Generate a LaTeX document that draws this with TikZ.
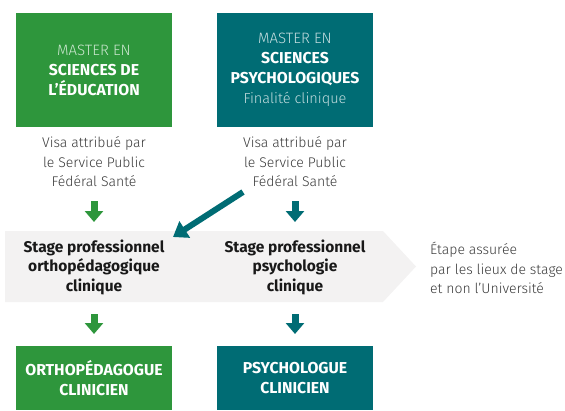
\documentclass[tikz,border=0pt]{standalone}
\usepackage{fontspec}
\setmainfont{Fira Sans}
\newfontfamily\lightfont{Fira Sans Light}
\usetikzlibrary{arrows.meta}
\definecolor{cgreen}{HTML}{2E963C}
\definecolor{cteal}{HTML}{006C74}
\definecolor{cband}{HTML}{F3F2F2}
\definecolor{ctext}{HTML}{3A3A3A}
\definecolor{cgreenlight}{HTML}{CBE6CE}
\definecolor{teallight}{HTML}{C4DDDF}
\newcommand{\bigb}[1]{{\bfseries\fontsize{15.8}{20}\selectfont #1}}
\tikzset{
  box/.style={rectangle, inner sep=0pt, minimum width=156pt, text=white, align=center, font=\fontsize{14}{20}\selectfont},
  visa/.style={inner sep=0pt, align=center, text=ctext, font=\lightfont\fontsize{14}{19.5}\selectfont},
  stagetxt/.style={inner sep=0pt, align=center, text=black!90, font=\bfseries\fontsize{15.5}{19.5}\selectfont},
  blockarrow/.style={line width=7pt, -{Triangle[width=18pt,length=11pt]}},
  diagarrow/.style={line width=6pt, cteal, -{Triangle[width=19pt,length=14pt]}},
}
\begin{document}
\begin{tikzpicture}[x=1pt, y=-1pt]
\useasboundingbox (0,0) rectangle (565,410);
% top boxes
\node[box, fill=cgreen, minimum height=114pt] (m1) at (94,70) {{\lightfont\fontsize{15}{20}\selectfont\color{cgreenlight}MASTER EN}\\\bigb{SCIENCES DE}\\\bigb{L’ÉDUCATION}};
\node[box, fill=cteal, minimum height=114pt] (m2) at (295,70) {{\lightfont\fontsize{15}{20}\selectfont\color{teallight}MASTER EN}\\\bigb{SCIENCES}\\\bigb{PSYCHOLOGIQUES}\\{\lightfont\fontsize{14.5}{21}\selectfont\color{teallight}Finalité clinique}};
% visa text
\node[visa] (v1) at (94,162) {Visa attribué par\\le Service Public\\Fédéral Santé};
\node[visa] (v2) at (295,162) {Visa attribué par\\le Service Public\\Fédéral Santé};
% band
\fill[cband] (5,231) -- (383,231) -- (416,266.5) -- (383,302) -- (5,302) -- cycle;
\node[stagetxt] (s1) at (94,267) {Stage professionnel\\orthopédagogique\\clinique};
\node[stagetxt] (s2) at (295,267) {Stage professionnel\\psychologie\\clinique};
\node[visa, align=left, anchor=west] (e) at (430,268) {Étape assurée\\par les lieux de stage\\et non l’Université};
% bottom boxes
\node[box, fill=cgreen, minimum height=64pt, font=\bfseries\fontsize{15.8}{19.5}\selectfont] (o1) at (94,378) {ORTHOPÉDAGOGUE\\CLINICIEN};
\node[box, fill=cteal, minimum height=64pt, font=\bfseries\fontsize{15.8}{19.5}\selectfont] (o2) at (295,378) {PSYCHOLOGUE\\CLINICIEN};
% arrows
\coordinate (a1s) at (94,201); \coordinate (a1e) at (94,222);
\coordinate (a2s) at (295,201); \coordinate (a2e) at (295,222);
\coordinate (b1s) at (94,314); \coordinate (b1e) at (94,334);
\coordinate (b2s) at (295,314); \coordinate (b2e) at (295,334);
\draw[blockarrow, cgreen] (a1s) -- (a1e);
\draw[blockarrow, cteal] (a2s) -- (a2e);
\draw[blockarrow, cgreen] (b1s) -- (b1e);
\draw[blockarrow, cteal] (b2s) -- (b2e);
\coordinate (ds) at (243,192);
\coordinate (de) at (173,237);
\draw[diagarrow] (ds) -- (de);
\end{tikzpicture}
\end{document}
